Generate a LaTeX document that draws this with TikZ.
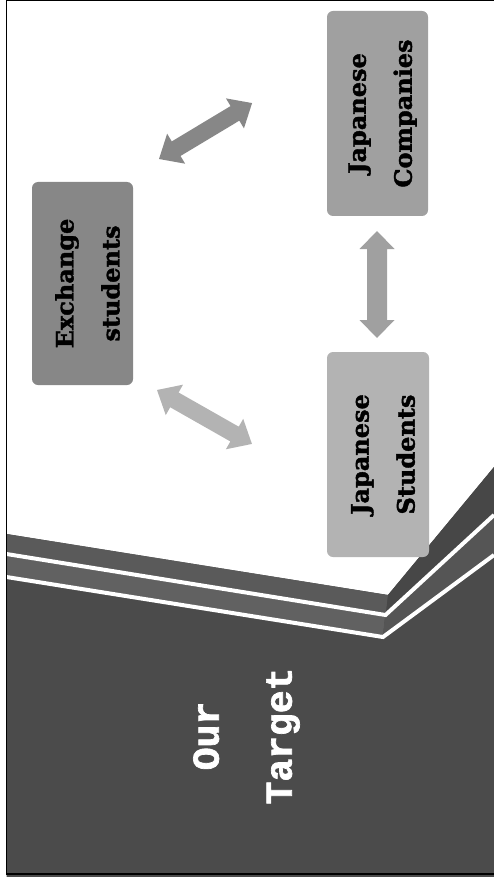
\documentclass[tikz,border=0pt]{standalone}
\usepackage{fontspec}
\newfontfamily\boxfont{DejaVu Serif}[BoldFeatures={FakeBold=1.6}]
\newfontfamily\targetfont{Liberation Mono}[BoldFeatures={FakeBold=1.8}]
\definecolor{bgdark}{HTML}{4B4B4B}
\definecolor{bandA}{HTML}{5A5A5A}
\definecolor{bandB}{HTML}{474747}
\definecolor{bandC}{HTML}{616161}
\definecolor{bandD}{HTML}{555555}
\definecolor{exfill}{HTML}{878787}
\definecolor{cofill}{HTML}{A0A0A0}
\definecolor{stfill}{HTML}{B3B3B3}
\begin{document}
\begin{tikzpicture}[x=1pt,y=-1pt,
  boxshape/.style={fill=#1, rounded corners=6pt, draw=none, inner sep=0pt},
  boxtext/.style={rotate=90, align=center, text=black, inner sep=0pt,
    font=\boxfont\bfseries\fontsize{24}{46}\selectfont},
  targettext/.style={rotate=90, align=center, text=white, inner sep=0pt,
    font=\targetfont\bfseries\fontsize{38}{73}\selectfont},
  whiteline/.style={white, line width=4pt, line join=miter}]
\useasboundingbox (0,0) rectangle (494,877);
% background bands
\fill[bgdark] (6.5,534) -- (388,595) -- (494,467) -- (494,877) -- (6.5,877) -- cycle;
\fill[bandA] (6.5,534) -- (388,595) -- (386,613) -- (6.5,552) -- cycle;
\fill[bandB] (388,595) -- (494,467) -- (494,513) -- (386,613) -- cycle;
\fill[bandC] (6.5,556) -- (385,617) -- (383,635) -- (6.5,575) -- cycle;
\fill[bandD] (385,617) -- (494,517) -- (494,553) -- (383,635) -- cycle;
\draw[whiteline] (6.5,554) -- (385.5,615) -- (494,515);
\draw[whiteline] (6.5,577) -- (383,637) -- (494,555);
% boxes
\node[boxshape=exfill, minimum width=101pt, minimum height=203pt] (ex) at (82.5,283.5) {};
\node[boxshape=cofill, minimum width=101pt, minimum height=205pt] (co) at (377.5,113.5) {};
\node[boxshape=stfill, minimum width=102pt, minimum height=205pt] (st) at (378,454.5) {};
\node[boxtext] (extext) at ([xshift=5pt]ex.center) {Exchange\\students};
\node[boxtext] (cotext) at ([xshift=5pt]co.center) {Japanese\\Companies};
\node[boxtext] (sttext) at ([xshift=5pt]st.center) {Japanese\\Students};
% block arrows
\coordinate (a1s) at (159,159);
\coordinate (a2s) at (157,390);
\coordinate (a3s) at (377,231);
\begin{scope}[shift={(a1s)}, rotate=31]
\fill[exfill] (0,0) -- (20,17.5) -- (20,8.5) -- (88.6,8.5) -- (88.6,17.5) -- (108.6,0)
  -- (88.6,-17.5) -- (88.6,-8.5) -- (20,-8.5) -- (20,-17.5) -- cycle;
\end{scope}
\begin{scope}[shift={(a2s)}, rotate=-29.6]
\fill[stfill] (0,0) -- (20,17.5) -- (20,8.5) -- (89.2,8.5) -- (89.2,17.5) -- (109.2,0)
  -- (89.2,-17.5) -- (89.2,-8.5) -- (20,-8.5) -- (20,-17.5) -- cycle;
\end{scope}
\begin{scope}[shift={(a3s)}, rotate=-90]
\fill[cofill] (0,0) -- (18,17.5) -- (18,10) -- (89,10) -- (89,17.5) -- (107,0)
  -- (89,-17.5) -- (89,-10) -- (18,-10) -- (18,-17.5) -- cycle;
\end{scope}
% target text
\node[targettext] (target) at (246.5,736) {Our\\Target};
% frame
\draw[black, line width=1.5pt] (496,0.75) -- (6.5,0.75) -- (6.5,873.8) -- (496,873.8);
\end{tikzpicture}
\end{document}
